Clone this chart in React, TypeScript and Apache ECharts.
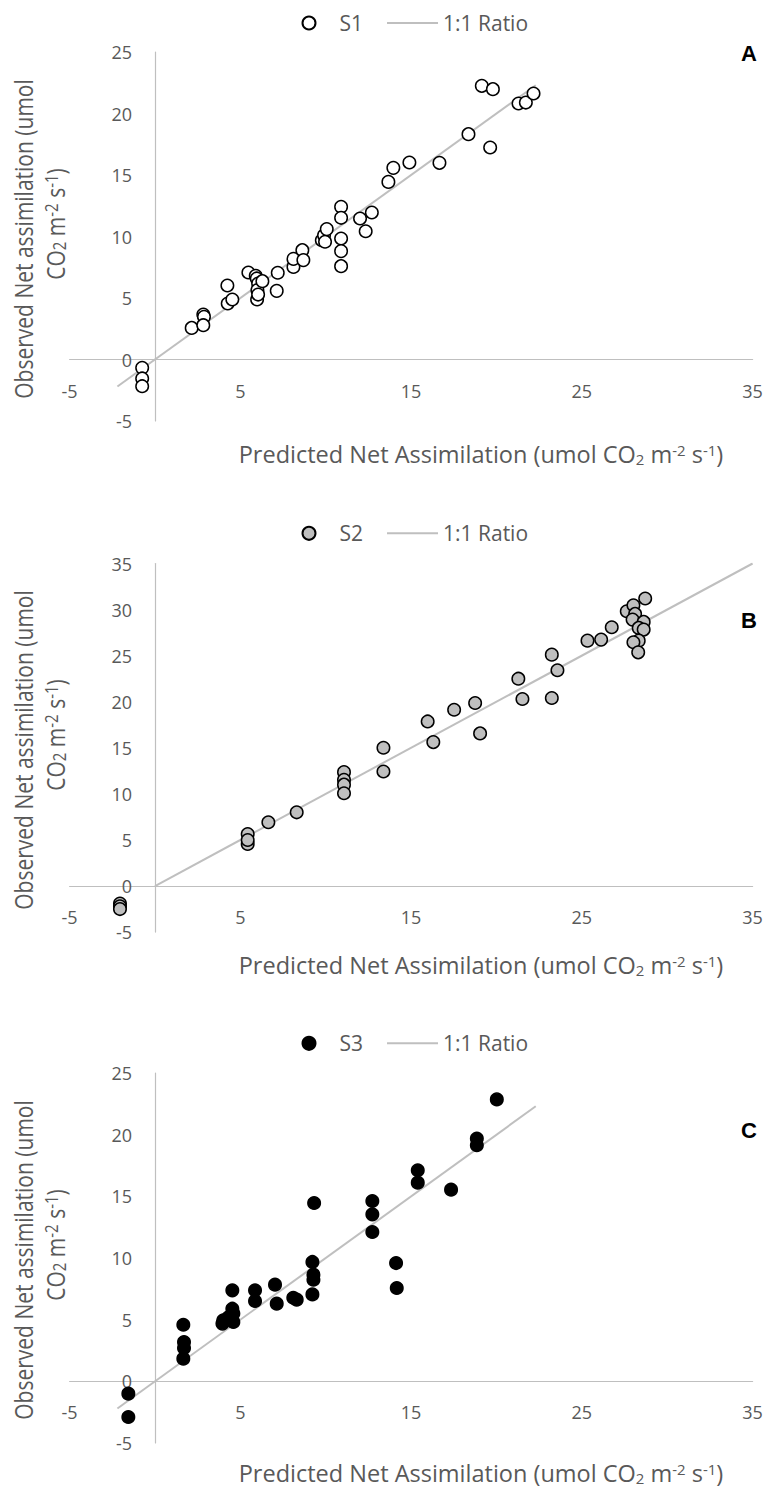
import React, { useEffect, useRef } from "react";
import * as echarts from "echarts";

// ---- Data ----
const s1X = [-0.75, -0.75, -0.75, 2.15, 2.83, 2.87, 2.83, 4.24, 4.26, 4.53, 5.47, 5.9, 5.96, 6.04, 6.0, 5.98, 6.04, 6.29, 7.13, 7.19, 8.11, 8.11, 8.63, 8.69, 9.77, 9.9, 9.96, 10.06, 10.9, 10.9, 10.9, 10.9, 10.9, 12.01, 12.34, 12.7, 13.67, 13.96, 14.9, 16.66, 18.36, 19.63, 19.14, 19.79, 21.29, 21.72, 22.17];
const s1Y = [-0.68, -1.54, -2.17, 2.57, 3.66, 3.47, 2.79, 6.02, 4.55, 4.88, 7.07, 6.8, 6.59, 6.18, 5.64, 4.88, 5.28, 6.37, 5.58, 7.05, 7.53, 8.18, 8.89, 8.08, 9.7, 10.1, 9.57, 10.6, 12.41, 11.52, 9.84, 8.81, 7.59, 11.46, 10.43, 11.95, 14.44, 15.58, 16.02, 15.99, 18.32, 17.24, 22.25, 21.98, 20.81, 20.89, 21.63];

const s2X = [-2.05, -2.05, -2.05, 5.43, 5.43, 5.43, 6.64, 8.3, 11.07, 11.07, 11.07, 11.07, 13.38, 13.38, 15.97, 16.3, 17.52, 18.75, 19.04, 21.28, 21.52, 23.24, 23.57, 23.24, 25.33, 26.13, 26.75, 28.71, 27.63, 28.02, 28.12, 27.97, 28.62, 28.33, 28.62, 28.33, 28.02, 28.3];
const s2Y = [-1.9, -2.2, -2.5, 5.65, 4.57, 5.0, 6.92, 8.0, 12.36, 11.52, 11.0, 10.07, 15.0, 12.43, 17.86, 15.62, 19.13, 19.86, 16.56, 22.5, 20.29, 25.11, 23.41, 20.4, 26.63, 26.74, 28.08, 31.2, 29.82, 30.47, 29.53, 28.91, 28.66, 28.01, 27.83, 26.63, 26.45, 25.36];

const s3X = [-1.56, -1.56, 1.66, 1.7, 1.7, 1.66, 4.0, 3.95, 4.3, 4.53, 4.53, 4.59, 4.59, 5.86, 5.86, 7.03, 7.13, 8.1, 8.3, 9.22, 9.28, 9.28, 9.22, 9.32, 12.73, 12.73, 12.73, 14.12, 14.16, 15.39, 15.39, 17.34, 18.85, 18.85, 20.02];
const s3Y = [-1.0, -2.89, 4.59, 3.19, 2.7, 1.84, 4.95, 4.68, 5.2, 7.38, 5.89, 5.49, 4.81, 7.38, 6.51, 7.84, 6.3, 6.78, 6.62, 9.68, 8.65, 8.24, 7.05, 14.46, 14.62, 13.54, 12.11, 9.59, 7.57, 17.11, 16.11, 15.54, 19.68, 19.14, 22.86];

// 1:1 line end points (x = y)
const ratioA = [-2.2, 22.3];
const ratioB = [0, 35];
const ratioC = [-2.2, 22.3];

// Axis ranges
const xRange = [-5, 35];
const xInterval = 10;
const yRangeA = [-5, 25];
const yRangeB = [-5, 35];
const yRangeC = [-5, 25];
const yInterval = 5;

const seriesNames = ["S1", "S2", "S3"];
const ratioName = "1:1 Ratio";
const panelLetters = ["A", "B", "C"];
const xTitle = "Predicted Net Assimilation (umol CO{sub|2} m{sup|-2} s{sup|-1})";
const yTitle1 = "Observed Net assimilation (umol";
const yTitle2 = "CO{sub|2} m{sup|-2} s{sup|-1})";

const zip = (xs: number[], ys: number[]) => xs.map((x, i) => [x, ys[i]]);

const GRAY_TEXT = "#595959";
const AXIS_GRAY = "#bfbfbf";

export default function App() {
  const ref = useRef<HTMLDivElement>(null);

  useEffect(() => {
    if (!ref.current) return;
    const chart = echarts.init(ref.current, undefined, { renderer: "svg" });

    const grids = [
      { left: 69.6, top: 52, width: 683, height: 369 },
      { left: 69.6, top: 563.5, width: 683, height: 368.6 },
      { left: 69.6, top: 1073, width: 683, height: 370 },
    ];
    const yRanges = [yRangeA, yRangeB, yRangeC];
    const pts = [zip(s1X, s1Y), zip(s2X, s2Y), zip(s3X, s3Y)];
    const ratios = [ratioA, ratioB, ratioC];
    const fills = ["#ffffff", "#bfbfbf", "#000000"];
    const legendTops = [23, 533.3, 1043.3];
    const xTitleY = [454, 965, 1473];
    const yTitleY1 = [239, 750, 1260];
    const yTitleY2 = [224, 735, 1245];
    const letterY = [53, 620, 1130];

    const tickLabel = {
      color: GRAY_TEXT,
      fontSize: 18,
      fontFamily: "Open Sans",
    };

    // The axes cross at zero: shift each axis (line + labels) to the other axis' zero.
    const xAxis = grids.map((g, i) => {
      const [lo, hi] = yRanges[i];
      const zeroFromBottom = ((0 - lo) / (hi - lo)) * g.height;
      return {
        type: "value",
        gridIndex: i,
        position: "bottom",
        offset: -zeroFromBottom,
        min: xRange[0],
        max: xRange[1],
        interval: xInterval,
        axisLine: { show: true, onZero: false, lineStyle: { color: AXIS_GRAY, width: 1.2 } },
        axisTick: { show: false },
        splitLine: { show: false },
        axisLabel: { ...tickLabel, margin: 22, showMinLabel: true, showMaxLabel: true },
      };
    });
    const yAxis = grids.map((g, i) => {
      const zeroFromLeft = ((0 - xRange[0]) / (xRange[1] - xRange[0])) * g.width;
      return {
        type: "value",
        gridIndex: i,
        position: "left",
        offset: -zeroFromLeft,
        min: yRanges[i][0],
        max: yRanges[i][1],
        interval: yInterval,
        axisLine: { show: true, onZero: false, lineStyle: { color: AXIS_GRAY, width: 1.2 } },
        axisTick: { show: false },
        splitLine: { show: false },
        axisLabel: { ...tickLabel, margin: 23, showMinLabel: true, showMaxLabel: true },
      };
    });

    const series: any[] = [];
    grids.forEach((_, i) => {
      series.push({
        name: ratioName,
        type: "line",
        xAxisIndex: i,
        yAxisIndex: i,
        data: ratios[i].map((v) => [v, v]),
        symbol: "none",
        lineStyle: { color: AXIS_GRAY, width: 2 },
        itemStyle: { color: AXIS_GRAY },
        z: 2,
        silent: true,
      });
      series.push({
        name: seriesNames[i],
        type: "scatter",
        xAxisIndex: i,
        yAxisIndex: i,
        data: pts[i],
        symbol: "circle",
        symbolSize: 12.5,
        itemStyle: { color: fills[i], borderColor: "#000000", borderWidth: 1.5, opacity: 1 },
        z: 3,
      });
    });

    const legend = grids.map((_, i) => ({
      data: [
        { name: seriesNames[i] },
        { name: ratioName, icon: "path://M0,0 L51,0 L51,2 L0,2 Z", itemStyle: { color: AXIS_GRAY } },
      ],
      left: 301.5,
      top: legendTops[i] - 12,
      padding: 0,
      itemWidth: 51,
      itemHeight: 13,
      itemGap: 24,
      selectedMode: false,
      textStyle: { color: GRAY_TEXT, fontSize: 21, fontFamily: "Open Sans", lineHeight: 24 },
    }));

    const small = (va: string) => ({
      fontSize: 15,
      fontFamily: "Open Sans",
      fill: GRAY_TEXT,
      verticalAlign: va,
    });

    const graphic: any[] = [];
    grids.forEach((_, i) => {
      graphic.push({
        type: "text",
        x: 481,
        y: xTitleY[i],
        style: {
          text: xTitle,
          fill: GRAY_TEXT,
          fontSize: 23.5,
          fontFamily: "Open Sans",
          align: "center",
          verticalAlign: "middle",
          rich: { sub: small("bottom"), sup: small("top") },
        },
      });
      graphic.push({
        type: "text",
        x: 23,
        y: yTitleY1[i],
        rotation: Math.PI / 2,
        scaleY: 1.2,
        style: {
          text: yTitle1,
          fill: GRAY_TEXT,
          fontSize: 21,
          fontFamily: "Open Sans",
          align: "center",
          verticalAlign: "middle",
        },
      });
      graphic.push({
        type: "text",
        x: 55,
        y: yTitleY2[i],
        rotation: Math.PI / 2,
        scaleY: 1.2,
        style: {
          text: yTitle2,
          fill: GRAY_TEXT,
          fontSize: 21,
          fontFamily: "Open Sans",
          align: "center",
          verticalAlign: "middle",
          rich: { sub: small("bottom"), sup: small("top") },
        },
      });
      graphic.push({
        type: "text",
        x: 749,
        y: letterY[i],
        style: {
          text: panelLetters[i],
          fill: "#000000",
          fontSize: 22,
          fontWeight: "bold",
          fontFamily: "Liberation Sans, Arial, sans-serif",
          align: "center",
          verticalAlign: "middle",
        },
      });
    });

    chart.setOption({
      animation: false,
      backgroundColor: "#ffffff",
      grid: grids,
      xAxis,
      yAxis,
      legend,
      series,
      graphic,
    } as any);

    return () => chart.dispose();
  }, []);

  return (
    <div
      ref={ref}
      style={{ position: "absolute", left: 0, top: 0, width: 768, height: 1490 }}
    />
  );
}
